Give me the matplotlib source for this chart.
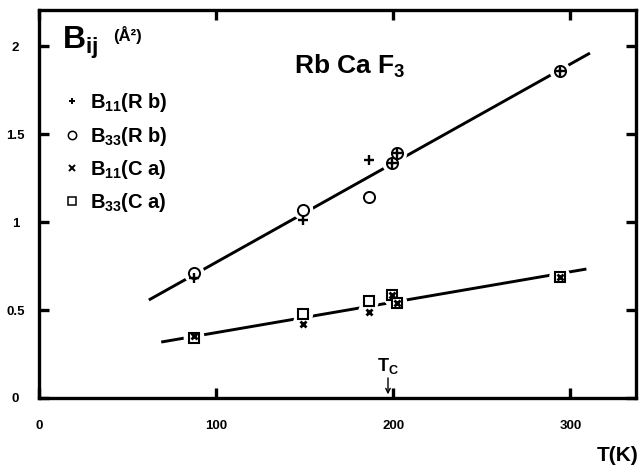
import matplotlib
matplotlib.use('Agg')
import matplotlib.pyplot as plt
from matplotlib.lines import Line2D

plt.rcParams['font.family'] = ['Liberation Sans', 'DejaVu Sans']
plt.rcParams['font.weight'] = 'bold'
plt.rcParams['mathtext.fontset'] = 'custom'
plt.rcParams['mathtext.rm'] = 'Liberation Sans:bold'
plt.rcParams['mathtext.it'] = 'Liberation Sans:bold'
plt.rcParams['mathtext.bf'] = 'Liberation Sans:bold'

# ---- data ----
T = [87.5, 149, 186, 199.5, 202, 294]
b11_rb = [0.68, 1.01, 1.35, 1.335, 1.39, 1.86]
b33_rb = [0.71, 1.07, 1.14, 1.335, 1.39, 1.86]
b11_ca = [0.35, 0.42, 0.49, 0.585, 0.54, 0.69]
b33_ca = [0.34, 0.48, 0.55, 0.585, 0.54, 0.69]

rb_fit_T = [62, 311]
rb_fit_B = [0.557, 1.96]
ca_fit_T = [69, 309]
ca_fit_B = [0.318, 0.733]

Tc = 197
xticks = [0, 100, 200, 300]
xticklabels = ['0', '100', '200', '300']
yticks = [0, 0.5, 1, 1.5, 2]
yticklabels = ['0', '0.5', '1', '1.5', '2']
labels = [r'$B_{11}$(R b)', r'$B_{33}$(R b)', r'$B_{11}$(C a)', r'$B_{33}$(C a)']

fig = plt.figure(figsize=(6.4, 4.7), dpi=100)
ax = fig.add_axes([39/640, 1-398/470, 597/640, 388/470])
ax.set_xlim(0, 337)
ax.set_ylim(0, 2.205)

# fit lines
ax.plot(rb_fit_T, rb_fit_B, color='black', lw=2.1, zorder=1, solid_capstyle='butt')
ax.plot(ca_fit_T, ca_fit_B, color='black', lw=2.1, zorder=1, solid_capstyle='butt')

# white gaps around data points
for ys in (b33_rb, b33_ca, b11_ca):
    ax.scatter(T, ys, s=220, c='white', edgecolors='none', zorder=2)

# data markers
ax.plot(T, b33_rb, ls='none', marker='o', ms=8, mfc='white', mec='black', mew=1.4, zorder=3)
ax.plot(T, b11_rb, ls='none', marker='+', ms=6.5, mec='black', mew=1.7, zorder=4)
ax.plot(T, b33_ca, ls='none', marker='s', ms=7, mfc='white', mec='black', mew=1.5, zorder=3)
ax.plot(T, b11_ca, ls='none', marker='x', ms=5, mec='black', mew=2.0, zorder=4)

# axes styling
for s in ax.spines.values():
    s.set_linewidth(2.4)
ax.set_xticks(xticks)
ax.set_xticklabels(xticklabels)
ax.set_yticks(yticks)
ax.set_yticklabels(yticklabels)
ax.tick_params(which='major', direction='in', length=7, width=2.4,
               top=True, right=True, labelsize=9.5)
ax.tick_params(axis='x', pad=16)
ax.tick_params(axis='y', pad=17)
for lab in ax.get_yticklabels():
    lab.set_horizontalalignment('center')

# header and title
ax.text(0.038, 0.915, r'$B_{ij}$', transform=ax.transAxes, fontsize=23,
        ha='left', va='center')
ax.text(0.125, 0.935, '(Å²)', transform=ax.transAxes, fontsize=12,
        ha='left', va='center')
ax.text(0.52, 0.855, r'Rb Ca F$_3$', transform=ax.transAxes, fontsize=19,
        ha='center', va='center')

# legend
handles = [
    Line2D([], [], ls='none', marker='+', ms=5, mec='black', mew=1.4),
    Line2D([], [], ls='none', marker='o', ms=6, mfc='white', mec='black', mew=1.1),
    Line2D([], [], ls='none', marker='x', ms=4, mec='black', mew=1.4),
    Line2D([], [], ls='none', marker='s', ms=5.5, mfc='white', mec='black', mew=1.1),
]
ax.legend(handles, labels, loc='upper left', bbox_to_anchor=(0.045, 0.79),
          frameon=False, fontsize=14.5, handlelength=0.6, handletextpad=0.6,
          labelspacing=0.5, borderpad=0, borderaxespad=0)

# Tc annotation
ax.annotate('', xy=(Tc, 0.005), xytext=(Tc, 0.13),
            arrowprops=dict(arrowstyle='->', lw=1.0, color='black', mutation_scale=8))
ax.text(Tc, 0.18, r'T$_\mathrm{C}$', fontsize=13, ha='center', va='center')

# x-axis label
fig.text(0.997, 0.03, 'T(K)', fontsize=15, ha='right', va='center')

fig.savefig('out.png', dpi=100)
